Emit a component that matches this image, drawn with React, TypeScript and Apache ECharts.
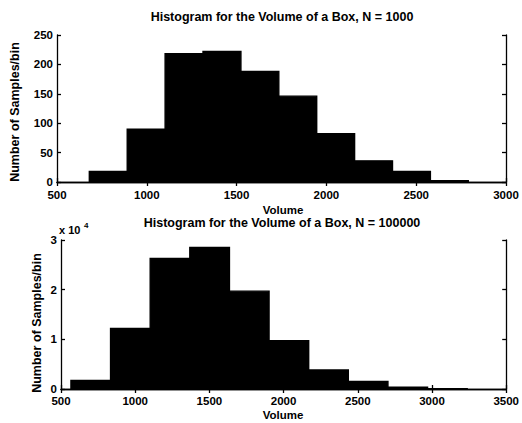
import React, { useEffect, useRef } from "react";
import * as echarts from "echarts";

// Top histogram (N = 1000): bin edges and counts
const topEdges = [680, 891, 1102, 1313, 1524, 1735, 1946, 2157, 2368, 2579, 2790];
const topCounts = [18, 90, 218, 222, 188, 146, 82, 36, 18, 2];

// Bottom histogram (N = 100000): bin edges and counts
const botEdges = [567, 834, 1101, 1368, 1635, 1902, 2169, 2436, 2703, 2970, 3237];
const botCounts = [1700, 12200, 26300, 28500, 19700, 9750, 3840, 1500, 350, 80];

const topTitle = "Histogram for the Volume of a Box, N = 1000";
const botTitle = "Histogram for the Volume of a Box, N = 100000";
const xName = "Volume";
const yName = "Number of Samples/bin";

const FONT = "'Liberation Sans', Arial, Helvetica, sans-serif";

function toBins(edges: number[], counts: number[]) {
  return counts.map((c, i) => [edges[i], edges[i + 1], c]);
}

const renderBar = (params: any, api: any) => {
  const p0 = api.coord([api.value(0), 0]);
  const p1 = api.coord([api.value(1), api.value(2)]);
  return {
    type: "rect",
    shape: { x: p0[0], y: p1[1], width: p1[0] - p0[0], height: p0[1] - p1[1] },
    style: { fill: "#000", stroke: "#000", lineWidth: 1.4 },
  };
};

export default function App() {
  const ref = useRef<HTMLDivElement>(null);
  useEffect(() => {
    if (!ref.current) return;
    const chart = echarts.init(ref.current, null, { renderer: "svg" });
    const axisLine = { show: true, lineStyle: { color: "#000", width: 1.3 } };
    const tick = { show: true, inside: true, length: 4, lineStyle: { color: "#000", width: 1.3 } };
    const label = { color: "#000", fontFamily: FONT, fontSize: 11.5, fontWeight: "bold" as const };
    const xAx = (grid: number, max: number, pos: "bottom" | "top", margin: number) => ({
      type: "value",
      gridIndex: grid,
      position: pos,
      min: 500,
      max,
      interval: 500,
      axisLine,
      axisTick: tick,
      axisLabel:
        pos === "bottom" ? { ...label, margin, formatter: (v: number) => String(v) } : { show: false },
      splitLine: { show: false },
    });
    const yAx = (
      grid: number,
      max: number,
      interval: number,
      pos: "left" | "right",
      fmt: (v: number) => string = (v) => String(v)
    ) => ({
      type: "value",
      gridIndex: grid,
      position: pos,
      min: 0,
      max,
      interval,
      axisLine,
      axisTick: tick,
      axisLabel: pos === "left" ? { ...label, margin: 4, formatter: fmt } : { show: false },
      splitLine: { show: false },
    });
    const txt = (x: number, y: number, text: string, size: number, extra: any = {}) => ({
      type: "text",
      x,
      y,
      ...extra,
      style: {
        text,
        fill: "#000",
        font: `bold ${size}px ${FONT}`,
        textAlign: extra.align || "center",
        textVerticalAlign: "middle",
      },
    });
    chart.setOption({
      animation: false,
      backgroundColor: "#fff",
      grid: [
        { left: 57, top: 35, width: 449, height: 147 },
        { left: 61, top: 240, width: 447, height: 149 },
      ],
      xAxis: [
        xAx(0, 3000, "bottom", 7),
        xAx(0, 3000, "top", 0),
        xAx(1, 3500, "bottom", 6),
        xAx(1, 3500, "top", 0),
      ],
      yAxis: [
        yAx(0, 250, 50, "left"),
        yAx(0, 250, 50, "right"),
        yAx(1, 30000, 10000, "left", (v: number) => String(v / 10000)),
        yAx(1, 30000, 10000, "right"),
      ],
      series: [
        {
          type: "custom",
          xAxisIndex: 0,
          yAxisIndex: 0,
          renderItem: renderBar,
          encode: { x: [0, 1], y: 2 },
          data: toBins(topEdges, topCounts),
          clip: true,
        },
        {
          type: "custom",
          xAxisIndex: 2,
          yAxisIndex: 2,
          renderItem: renderBar,
          encode: { x: [0, 1], y: 2 },
          data: toBins(botEdges, botCounts),
          clip: true,
        },
      ],
      graphic: [
        txt(282, 17, topTitle, 12.5),
        txt(283, 210, xName, 11.5),
        txt(282, 222.5, botTitle, 12.5),
        txt(283, 415, xName, 11.5),
        txt(15, 112, yName, 12.5, { rotation: Math.PI / 2 }),
        txt(37, 323, yName, 12.5, { rotation: Math.PI / 2 }),
        txt(59, 230, "x 10", 11, { align: "left" }),
        txt(84, 225.5, "4", 8, { align: "left" }),
      ],
    });
    return () => chart.dispose();
  }, []);
  return (
    <div
      ref={ref}
      style={{ position: "fixed", left: 0, top: 0, width: 522, height: 423, background: "#fff" }}
    />
  );
}
